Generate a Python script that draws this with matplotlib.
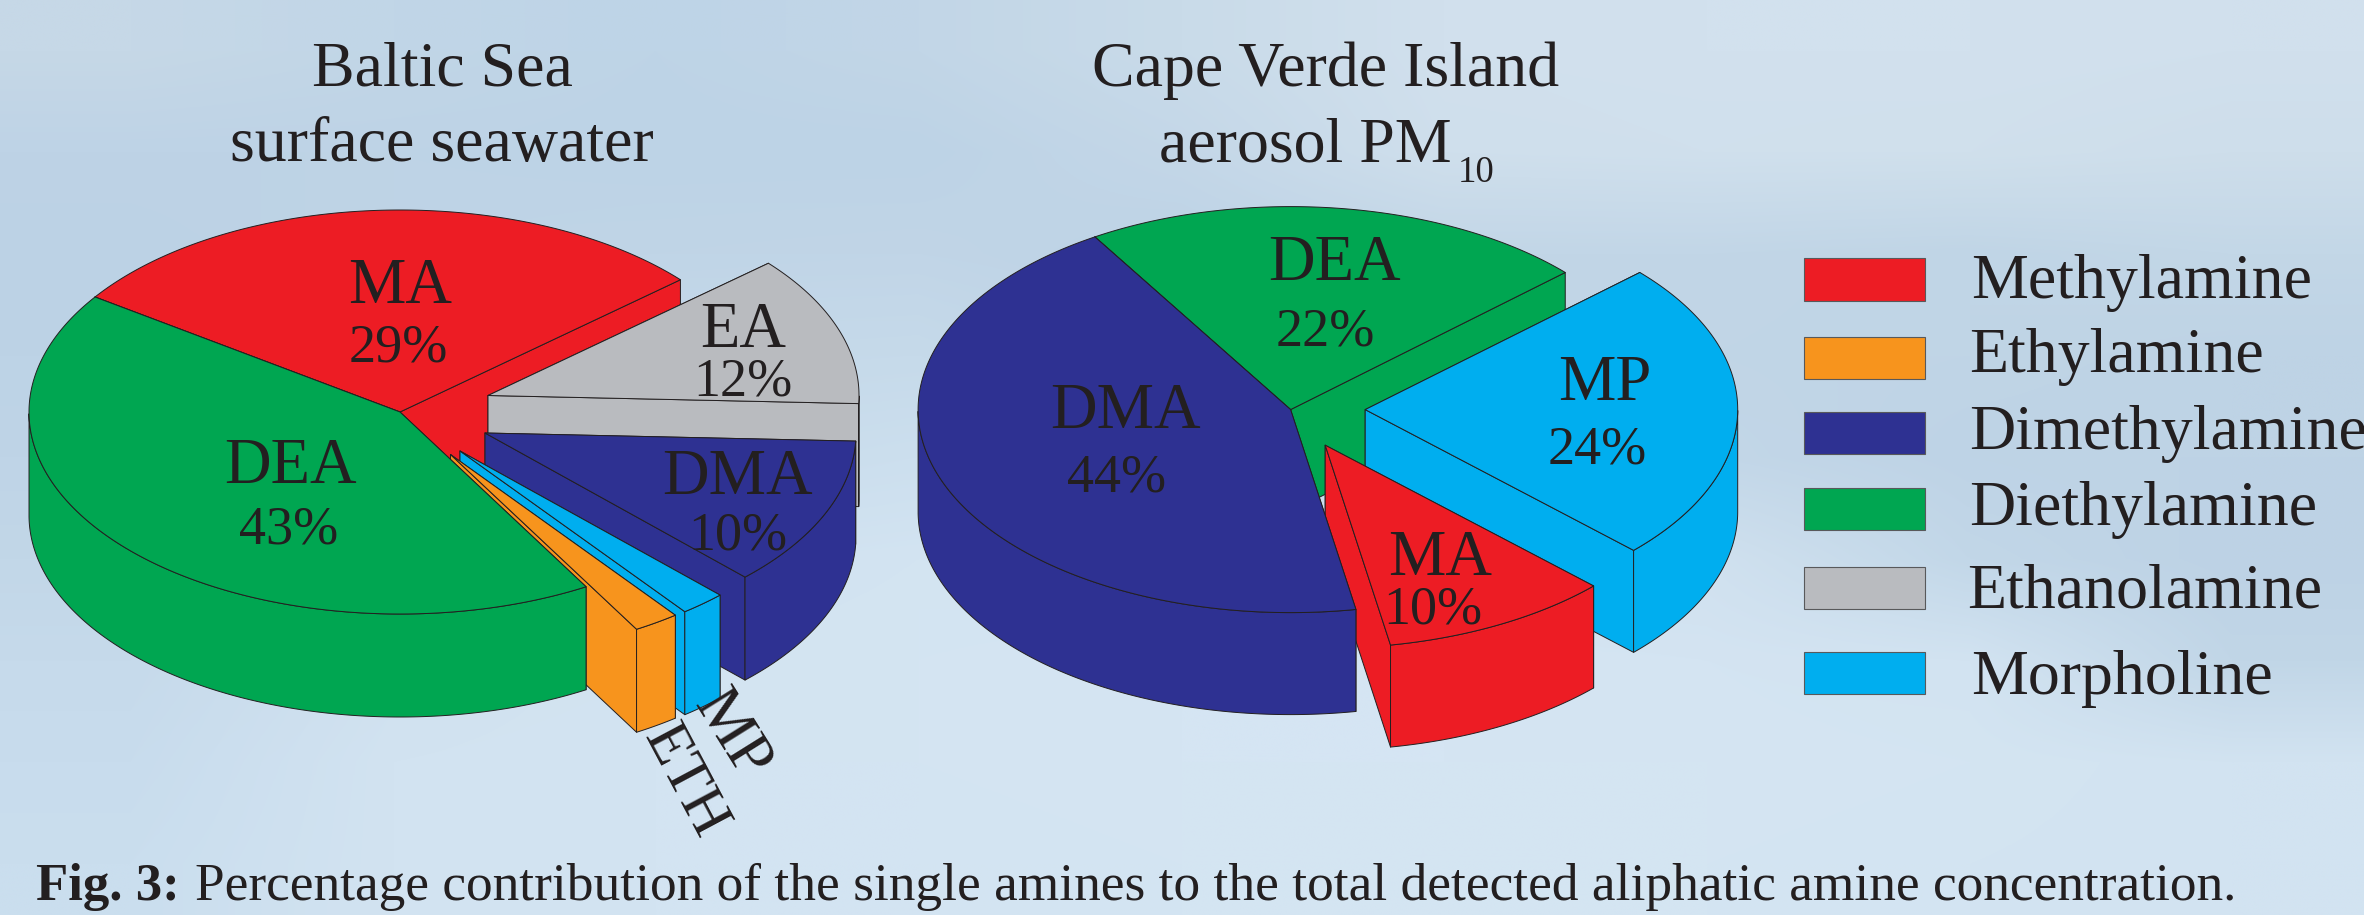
import numpy as np
import matplotlib
matplotlib.use('Agg')
import matplotlib.pyplot as plt
from matplotlib.colors import to_rgb

plt.rcParams['font.family'] = ['Liberation Serif', 'DejaVu Serif']

# legend
legend_names = ['Methylamine', 'Ethylamine', 'Dimethylamine', 'Diethylamine', 'Ethanolamine', 'Morpholine']
legend_keys = ['MA', 'ETH', 'DMA', 'DEA', 'EA', 'MP']

# shares as the slices are drawn (DMA in the Baltic pie is drawn wider than its 10% label)
baltic_amines = ['MA', 'DEA', 'ETH', 'MP', 'DMA', 'EA']
baltic_shares = [29, 43, 2, 2, 12, 12]
baltic_labels = ['29%', '43%', '', '', '10%', '12%']

cape_amines = ['DEA', 'DMA', 'MA', 'MP']
cape_shares = [22, 44, 10, 24]
cape_labels = ['22%', '44%', '10%', '24%']

colors = {'MA': '#ED1C24', 'ETH': '#F7941D', 'DMA': '#2E3192', 'DEA': '#00A651', 'EA': '#B9BBBF', 'MP': '#00AEEF'}
ink = '#231F20'

# soft sky behind everything
sky = [
    ['#c6d8e7', '#c1d6e7', '#bed4e7', '#c2d6e7', '#c9dbe9', '#d1e0ed', '#d2e1ee', '#d2e1ee', '#d1e0ed'],
    ['#bed3e6', '#bed3e6', '#bdd3e6', '#bdd3e6', '#c4d7e8', '#cfdfec', '#d0e0ed', '#d0e0ec', '#cedeeb'],
    ['#bcd2e5', '#bfd4e6', '#c0d5e7', '#c1d5e7', '#bdd3e6', '#c2d6e7', '#c2d6e7', '#c0d5e6', '#c3d7e7'],
    ['#bdd3e6', '#c1d6e7', '#c5d9ea', '#c6daea', '#c0d5e6', '#c0d5e6', '#c1d5e6', '#c0d5e6', '#bed3e5'],
    ['#bfd4e7', '#c4d8ea', '#c9dcec', '#ccdfee', '#cbdded', '#c8dbeb', '#c3d7e8', '#bed3e6', '#bed3e5'],
    ['#c2d7e8', '#cbddec', '#d1e2f0', '#d3e4f2', '#d2e3f1', '#d0e2f0', '#d0e1ef', '#c2d7e8', '#bdd2e5'],
    ['#c6daeb', '#d0e1ef', '#d3e4f1', '#d4e5f2', '#d5e5f3', '#d5e5f3', '#d4e4f2', '#d2e3f1', '#c1d6e7'],
    ['#c8dced', '#d2e3f1', '#d3e4f2', '#d4e4f2', '#d5e5f3', '#d5e5f3', '#d5e5f3', '#d4e5f2', '#d2e3f1'],
    ['#cadeee', '#d2e3f1', '#d3e4f2', '#d3e4f2', '#d4e5f2', '#d4e5f3', '#d4e5f2', '#d3e4f2', '#d2e3f1'],
]

fig = plt.figure(figsize=(23.64, 9.15), dpi=100)
ax = fig.add_axes([0, 0, 1, 1])
ax.imshow([[to_rgb(c) for c in row] for row in sky], extent=(0, 2364, 915, 0),
          aspect='auto', interpolation='bilinear')
ax.set_xlim(0, 2364)
ax.set_ylim(915, 0)
ax.axis('off')


def draw_slice(cx, cy, rx, ry, depth, a0, a1, color):
    # one extruded slice, hidden faces first
    t = np.radians(np.linspace(a0, a1, 300))
    xs = cx + rx * np.cos(t)
    ys = cy - ry * np.sin(t)
    ends = sorted([(xs[0], ys[0]), (xs[-1], ys[-1])], key=lambda p: p[1])
    for ex, ey in ends:
        ax.fill([cx, ex, ex, cx], [cy, ey, ey + depth, cy + depth],
                facecolor=color, edgecolor=ink, lw=0.7, joinstyle='round')
    low = np.sin(t) <= 0
    if low.sum() > 1:
        sx = xs[low]
        sy = ys[low]
        ax.fill(np.r_[sx, sx[::-1]], np.r_[sy, sy[::-1] + depth],
                facecolor=color, edgecolor=ink, lw=0.7, joinstyle='round')
    ax.fill(np.r_[cx, xs], np.r_[cy, ys], facecolor=color, edgecolor=ink, lw=0.7, joinstyle='round')


def draw_pie(amines, shares, start, cx, cy, rx, ry, depth, offsets, order):
    edges = start + np.r_[0, np.cumsum(shares)] * 3.6
    for name in order:
        i = amines.index(name)
        dx, dy = offsets.get(name, (0, 0))
        draw_slice(cx + dx, cy + dy, rx, ry, depth, edges[i], edges[i + 1], colors[name])


draw_pie(baltic_amines, baltic_shares, 40.9, 400, 412, 371, 202, 103,
         {'EA': (88, -16.5), 'DMA': (85, 21), 'MP': (60, 39), 'ETH': (50.5, 42.5)},
         ['MA', 'EA', 'DMA', 'MP', 'ETH', 'DEA'])
draw_pie(cape_amines, cape_shares, 42.5, 1290.6, 409.6, 372.5, 203, 102,
         {'MP': (74.6, 0), 'MA': (34.6, 35.6)},
         ['DEA', 'MP', 'MA', 'DMA'])


def label(x, y, s, size=46.5, **kw):
    ax.text(x, y, s, fontsize=size, color=ink, ha='center', va='baseline', **kw)


# slice labels, name then percent
baltic_pos = {'MA': (400, 303, 398, 361), 'DEA': (291, 483, 289, 543),
              'EA': (743, 347, 743, 395), 'DMA': (738, 494, 738, 549)}
for name, (x1, y1, x2, y2) in baltic_pos.items():
    label(x1, y1, name)
    label(x2, y2, baltic_labels[baltic_amines.index(name)], size=39)

cape_pos = {'DEA': (1334, 280, 1325, 345), 'DMA': (1126, 428, 1117, 492),
            'MP': (1605, 400, 1597, 464), 'MA': (1440, 575, 1433, 624)}
for name, (x1, y1, x2, y2) in cape_pos.items():
    label(x1, y1, name)
    label(x2, y2, cape_labels[cape_amines.index(name)], size=39)

ax.text(730, 735, 'MP', fontsize=46, color=ink, rotation=-58, ha='center', va='center', rotation_mode='anchor')
ax.text(684, 782, 'ETH', fontsize=44, color=ink, rotation=-62, ha='center', va='center', rotation_mode='anchor')

# titles
label(442, 86, 'Baltic Sea', size=46)
label(442, 161, 'surface seawater', size=46)
label(1326, 86, 'Cape Verde Island', size=46)
ax.text(1452, 161, 'aerosol PM', fontsize=46, color=ink, ha='right', va='baseline')
ax.text(1458, 182, '10', fontsize=26.5, color=ink, ha='left', va='baseline')

# legend
box_y = [258, 337, 412, 488, 567, 652]
box_h = [43, 42, 42, 42, 42, 42]
text_x = [1971, 1969, 1969, 1969, 1967, 1971]
text_y = [298, 372, 449, 525, 607, 694]
for i, key in enumerate(legend_keys):
    ax.fill([1804, 1925, 1925, 1804], [box_y[i], box_y[i], box_y[i] + box_h[i], box_y[i] + box_h[i]],
            facecolor=colors[key], edgecolor='#58595B', lw=0.8)
    ax.text(text_x[i], text_y[i], legend_names[i], fontsize=46, color=ink, ha='left', va='baseline')

# caption
ax.text(36, 900, 'Fig. 3:', fontsize=38, fontweight='bold', color=ink, ha='left', va='baseline')
ax.text(195, 900, 'Percentage contribution of the single amines to the total detected aliphatic amine concentration.',
        fontsize=38.4, color=ink, ha='left', va='baseline')

fig.savefig('out.png', dpi=100)
